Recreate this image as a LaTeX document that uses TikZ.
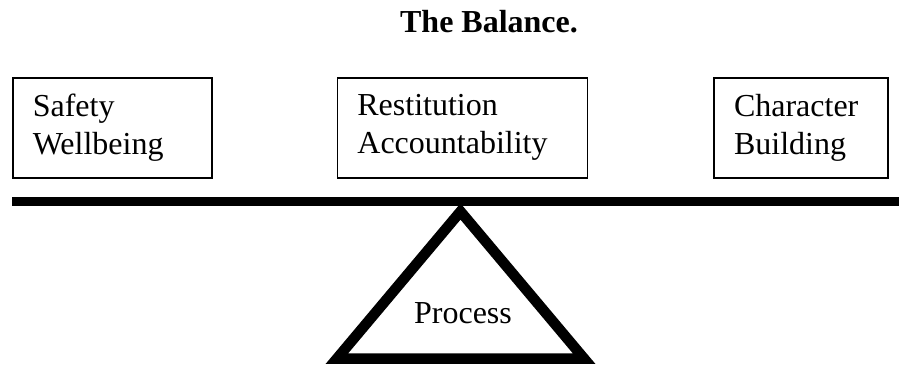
\documentclass[tikz,border=0pt]{standalone}
\usepackage{fontspec}
\setmainfont{Liberation Serif}
\usetikzlibrary{positioning}

\tikzset{
  box/.style={draw, line width=1.6pt, minimum height=100pt,
    inner xsep=20pt, inner ysep=0pt, align=left},
}

\begin{document}
\begin{tikzpicture}[x=1pt, y=-1pt]

\newcommand\BEAM{9pt}
\newcommand\LEG{10.5pt}

\fontsize{32}{38}\selectfont
\useasboundingbox (0,0) rectangle (899,364);

%% title
\node[font=\bfseries, anchor=base] (title) at (489,32) {The Balance.};

%% the three weights
\node[box, text width=159pt, anchor=north west] (safety) at (12,77)
{Safety\\Wellbeing};
\node[box, text width=210pt, right=124pt of safety.north east, anchor=north west] (restitution)
{Restitution\\Accountability};
\node[box, text width=134pt, right=125pt of restitution.north east, anchor=north west] (character)
{Character\\Building};

%% beam
\coordinate (beamL) at (12,201.5);
\coordinate (beamR) at (899,201.5);
\draw[line width=\BEAM] (beamL) -- (beamR);

%% fulcrum
\coordinate (apex) at (460.5,211.5);
\coordinate (baseL) at (337,358.5);
\coordinate (baseR) at (584,358.5);
\draw[line width=\LEG, line join=miter] (apex) -- (baseL) -- (baseR) -- cycle;
\node[anchor=base] (process) at (463,323) {Process};

\end{tikzpicture}
\end{document}
